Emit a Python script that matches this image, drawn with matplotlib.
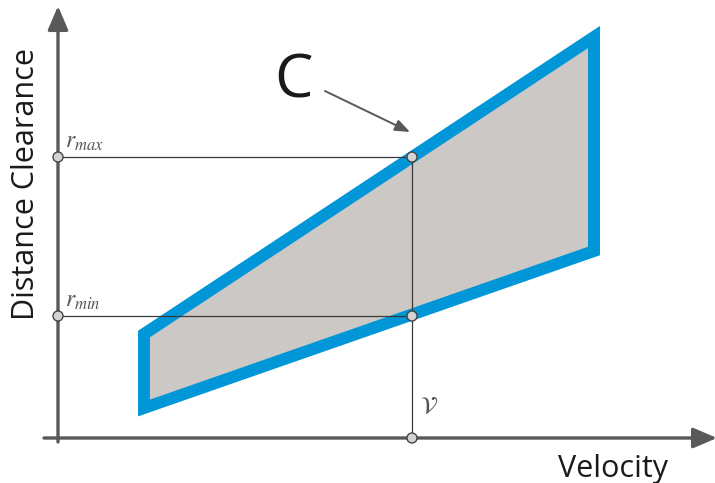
import matplotlib
matplotlib.use("Agg")
import matplotlib.pyplot as plt
from matplotlib.patches import Polygon, FancyArrowPatch, ArrowStyle, Circle

plt.rcParams["mathtext.fontset"] = "stix"

# Region C in (velocity, clearance) units, origin at the axes crossing
region_velocity = [86, 536, 536, 86]
region_clearance = [104, 401, 187, 30]
v_value = 354
r_max = 281
r_min = 122

AX_COLOR = "#58595b"
BLUE = "#0096d8"
GREY = "#cbc8c6"

fig = plt.figure(figsize=(7.15, 4.83), dpi=100)
ax = fig.add_axes([0, 0, 1, 1])
ax.set_xlim(-58, 657)
ax.set_ylim(-45, 438)
ax.axis("off")

# region C
poly = Polygon(list(zip(region_velocity, region_clearance)), closed=True,
               facecolor=GREY, edgecolor=BLUE, linewidth=8.6, joinstyle="miter", zorder=2)
ax.add_patch(poly)

# guide lines
ax.plot([0, v_value], [r_max, r_max], color="#3a3a3a", lw=0.9, zorder=3)
ax.plot([0, v_value], [r_min, r_min], color="#3a3a3a", lw=0.9, zorder=3)
ax.plot([v_value, v_value], [0, r_max], color="#3a3a3a", lw=0.9, zorder=3)

# axes with arrows
style = ArrowStyle("-|>", head_length=1.45, head_width=0.62)
ax.add_patch(FancyArrowPatch((0, -4), (0, 432), arrowstyle=style, mutation_scale=10,
                             color=AX_COLOR, lw=2.4, shrinkA=0, shrinkB=0, zorder=4))
ax.add_patch(FancyArrowPatch((-14, 0), (659, 0), arrowstyle=style, mutation_scale=10,
                             color=AX_COLOR, lw=2.4, shrinkA=0, shrinkB=0, zorder=4))

# points
for (px, py) in [(0, r_max), (v_value, r_max), (0, r_min), (v_value, r_min), (v_value, 0)]:
    ax.add_patch(Circle((px, py), 5, facecolor="#d4d4d4", edgecolor="#444444", lw=1.0, zorder=5))

# labels
ax.text(7, r_max + 4, r"$r_{max}$", fontsize=17, color="#555555", va="bottom", ha="left")
ax.text(7, r_min + 4, r"$r_{min}$", fontsize=17, color="#555555", va="bottom", ha="left")
ax.text(v_value + 8, 20, r"$\mathcal{V}$", fontsize=17, color="#555555",
        va="bottom", ha="left")

ax.text(235, 357, "C", fontsize=44, fontfamily="Open Sans", color="#1a1a1a",
        ha="center", va="center")
ax.annotate("", xy=(352, 306), xytext=(267, 347),
            arrowprops=dict(arrowstyle=ArrowStyle("-|>", head_length=0.9, head_width=0.35),
                            color=AX_COLOR, lw=1.4, shrinkA=0, shrinkB=0))

ax.text(-32, 254, "Distance Clearance", fontsize=22, fontfamily="Open Sans",
        color="#1a1a1a", rotation=90, ha="center", va="center")
ax.text(555, -31, "Velocity", fontsize=22, fontfamily="Open Sans",
        color="#1a1a1a", ha="center", va="center")

fig.savefig("out.png", dpi=100)
